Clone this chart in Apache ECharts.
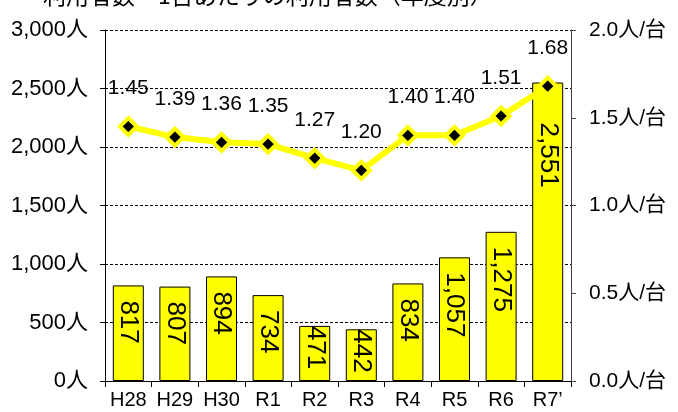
<!DOCTYPE html>
<html>
<head>
<meta charset="utf-8">
<script src="https://cdn.jsdelivr.net/npm/echarts@6/dist/echarts.min.js"></script>
<style>
  html, body { margin: 0; padding: 0; background: #fff; }
  #chart { width: 678px; height: 412px; }
</style>
</head>
<body>
<div id="chart"></div>
<script>
const FONT = "'Liberation Sans', 'Noto Sans CJK JP', sans-serif";

// 年度
const years = ['H28', 'H29', 'H30', 'R1', 'R2', 'R3', 'R4', 'R5', 'R6', 'R7\u2019'];
// 利用者数（人）
const riders = [817, 807, 894, 734, 471, 442, 834, 1057, 1275, 2551];
// 1台あたりの利用者数（人/台）
const perUnit = [1.45, 1.39, 1.36, 1.35, 1.27, 1.20, 1.40, 1.40, 1.51, 1.68];

const chart = echarts.init(document.getElementById('chart'), null, { renderer: 'canvas' });

// 小さい棒と最後の棒はラベル位置をずらす
const labelDist = [15, 15, 15, 15, 0, 0, 15, 15, 15, 40];

const option = {
    animation: false,
    textStyle: { fontFamily: FONT },
    title: {
        text: '利用者数・1台あたりの利用者数（年度別）',
        left: 38,
        top: -21,
        textStyle: { fontFamily: "'Noto Sans CJK JP', sans-serif", fontSize: 23, fontWeight: 'normal', color: '#000' }
    },
    grid: { left: 105, right: 107, top: 30, bottom: 31 },
    xAxis: {
        type: 'category',
        data: years,
        axisLine: { lineStyle: { color: '#000', width: 1 } },
        axisTick: { show: true, length: 6, lineStyle: { color: '#000' } },
        axisLabel: { color: '#000', fontSize: 20, margin: 9, interval: 0, fontFamily: FONT }
    },
    yAxis: [{
        type: 'value',
        min: 0, max: 3000, interval: 500,
        axisLine: { show: true, lineStyle: { color: '#000' } },
        axisTick: { show: true, length: 5, lineStyle: { color: '#000' } },
        axisLabel: {
            color: '#000', fontSize: 22, margin: 17, fontFamily: FONT,
            formatter: v => v.toLocaleString('en-US') + '人'
        },
        splitLine: { show: true, lineStyle: { color: '#000', width: 1, type: [3, 2] } }
    }, {
        type: 'value',
        min: 0, max: 2, interval: 0.5,
        position: 'right',
        axisLine: { show: true, lineStyle: { color: '#444' } },
        axisTick: { show: true, length: 5, lineStyle: { color: '#444' } },
        axisLabel: {
            color: '#000', fontSize: 21, margin: 18, fontFamily: FONT,
            formatter: v => v.toFixed(1) + '人/台'
        },
        splitLine: { show: false }
    }],
    series: [{
        type: 'bar',
        yAxisIndex: 0,
        barWidth: 31,
        data: riders.map((v, i) => ({
            value: v,
            label: { distance: labelDist[i] }
        })),
        itemStyle: { color: '#ffff00', borderColor: '#000', borderWidth: 1 },
        label: {
            show: true,
            position: 'insideTop',
            rotate: -90,
            align: 'left',
            verticalAlign: 'middle',
            fontSize: 26,
            color: '#000',
            fontFamily: FONT,
            formatter: p => p.value.toLocaleString('en-US')
        },
        z: 2
    }, {
        type: 'line',
        yAxisIndex: 1,
        data: perUnit,
        symbol: 'diamond',
        symbolSize: 17,
        lineStyle: { color: '#ffff00', width: 6 },
        itemStyle: { color: '#000', borderColor: '#ffff00', borderWidth: 4 },
        label: {
            show: true,
            position: 'top',
            distance: 17,
            fontSize: 21,
            color: '#000',
            fontFamily: FONT,
            formatter: p => p.value.toFixed(2)
        },
        z: 5
    }]
};

chart.setOption(option);
</script>
</body>
</html>
